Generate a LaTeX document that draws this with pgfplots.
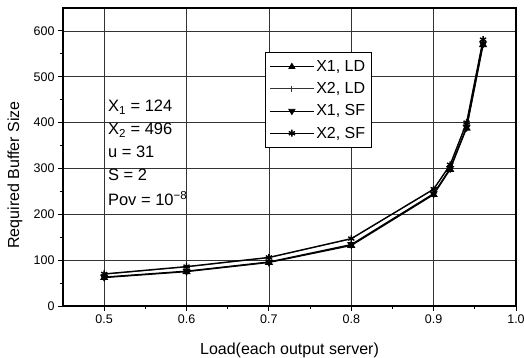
\documentclass[border=0pt]{standalone}
\usepackage{fontspec}
\setmainfont{Liberation Sans}
\usepackage{pgfplots}
\pgfplotsset{compat=1.18}
\begin{document}
\begin{tikzpicture}
\begin{axis}[
  at={(0pt,0pt)}, anchor=south west,
  scale only axis, width=453pt, height=298pt,
  xmin=0.45, xmax=1.0, ymin=0, ymax=650,
  xtick={0.5,0.6,0.7,0.8,0.9,1.0},
  xticklabels={0.5,0.6,0.7,0.8,0.9,1.0},
  ytick={0,100,200,300,400,500,600},
  minor xtick={0.55,0.65,0.75,0.85,0.95},
  minor ytick={50,150,250,350,450,550},
  xtick pos=bottom, ytick pos=left,
  tick align=outside,
  major tick length=5pt, minor tick length=3pt,
  tick style={black, line width=0.9pt},
  grid=major,
  major grid style={black!80, line width=0.6pt},
  axis line style={black, line width=1.4pt},
  /pgf/number format/assume math mode=true,
  ticklabel style={font=\fontsize{12.5}{13}\selectfont},
  xlabel={Load(each output server)},
  ylabel={Required Buffer Size},
  label style={font=\fontsize{16}{17}\selectfont},
  xlabel style={at={(axis description cs:0.5,-0.15)}, anchor=center},
  ylabel style={at={(axis description cs:-0.106,0.44)}, anchor=center},
  legend style={at={(0.446,0.852)}, anchor=north west,
    font=\fontsize{16}{16}\selectfont, draw=black, line width=0.9pt,
    row sep=5.5pt, inner xsep=4pt, inner ysep=6pt,
    cells={anchor=west}},
  legend image code/.code={\draw[mark repeat=2, mark phase=2,#1, line width=0.8pt] plot coordinates {(0pt,0pt)(22pt,0pt)(44pt,0pt)};},
]
\addplot[black, line width=1.3pt, mark=triangle*, mark size=3.5pt, mark options={solid}] coordinates {
 (0.5,62) (0.6,75) (0.7,95) (0.8,132) (0.9,243) (0.92,298) (0.94,388) (0.96,570)};
\addlegendentry{X1, LD}
\addplot[black!80, line width=0.7pt, mark=+, mark size=3pt, mark options={solid}] coordinates {
 (0.5,69) (0.6,85) (0.7,105) (0.8,146) (0.9,254) (0.92,307) (0.94,399) (0.96,579)};
\addlegendentry{X2, LD}
\addplot[black, line width=1.3pt, mark=triangle*, mark size=3.5pt, mark options={solid, rotate=180}] coordinates {
 (0.5,63) (0.6,76) (0.7,96) (0.8,134) (0.9,245) (0.92,300) (0.94,390) (0.96,572)};
\addlegendentry{X1, SF}
\addplot[black, line width=1.3pt, mark=asterisk, mark size=3.5pt, mark options={solid, line width=1.4pt}] coordinates {
 (0.5,70) (0.6,86) (0.7,106) (0.8,147) (0.9,255) (0.92,308) (0.94,400) (0.96,581)};
\addlegendentry{X2, SF}
\node[anchor=north west, align=left, font=\fontsize{16.5}{23}\selectfont, inner sep=0pt]
  at (axis description cs:0.099,0.692)
  {X\textsubscript{1} = 124\\X\textsubscript{2} = 496\\u = 31\\S = 2\\[2pt]Pov = 10\textsuperscript{−8}};
\end{axis}
\pgfresetboundingbox
\path[use as bounding box] (-63pt,-52pt) rectangle (461pt,306pt);
\end{tikzpicture}
\end{document}
